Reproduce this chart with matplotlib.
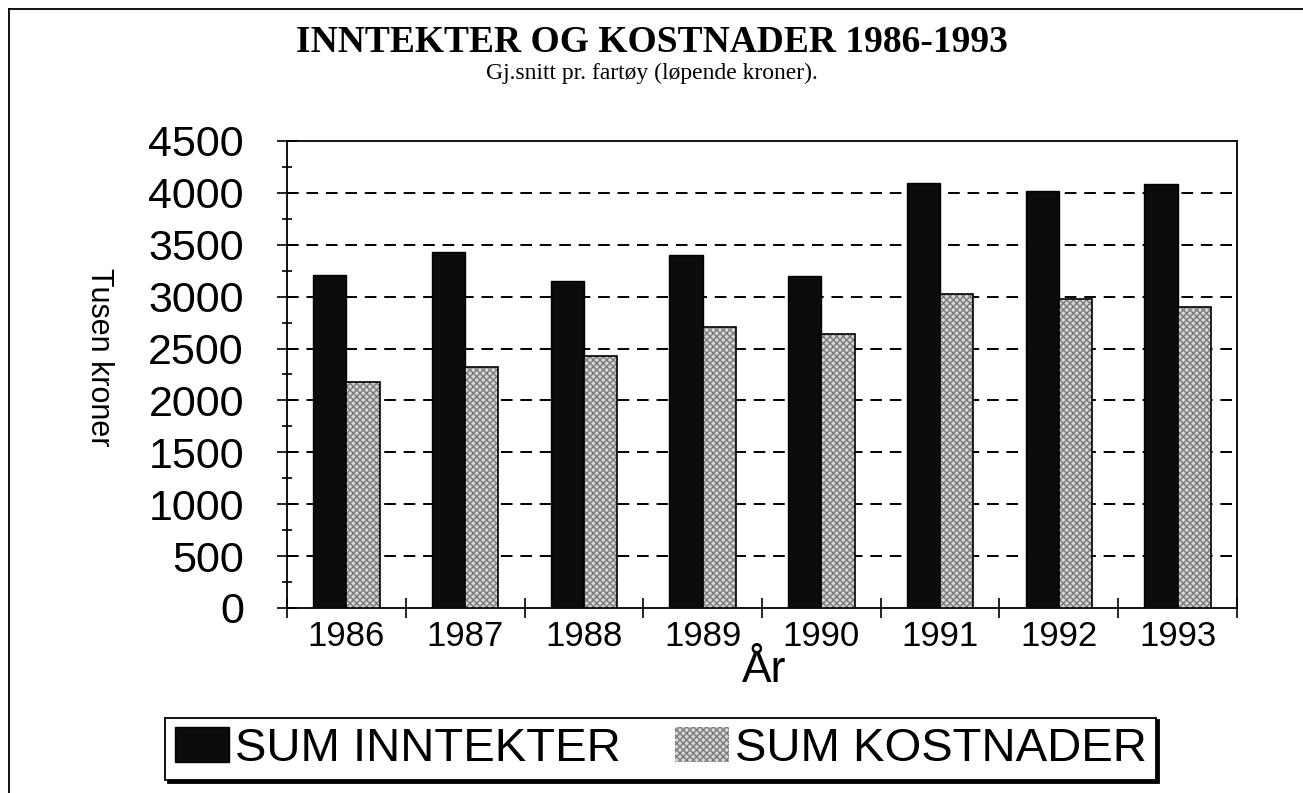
#!/usr/bin/env python

import numpy as np
import matplotlib
matplotlib.use('Agg')
import matplotlib.pyplot as plt
from matplotlib.lines import Line2D
from matplotlib.ticker import MultipleLocator, FixedLocator

# data (tusen kroner)
years = ['1986', '1987', '1988', '1989', '1990', '1991', '1992', '1993']
sum_inntekter = [3210, 3430, 3150, 3400, 3200, 4100, 4020, 4090]
sum_kostnader = [2180, 2320, 2430, 2710, 2640, 3030, 2980, 2900]

title = 'INNTEKTER OG KOSTNADER 1986-1993'
subtitle = 'Gj.snitt pr. fartøy (løpende kroner).'
ylabel = 'Tusen kroner'
xlabel = 'År'
series_names = ['SUM INNTEKTER', 'SUM KOSTNADER']

#---------------------------------------------------------------------------------------------------
# figure setup
#---------------------------------------------------------------------------------------------------
plt.rcParams['font.family'] = ['Liberation Sans', 'DejaVu Sans']
plt.rcParams['axes.linewidth'] = 1.3

fig = plt.figure(figsize=(13.03, 7.93), dpi=100)
ax = fig.add_axes([0.2203, 0.2333, 0.729, 0.5889])

x = np.arange(len(years))
width = 0.28

# income bars: solid black
b1 = ax.bar(x - width/2, sum_inntekter, width, color='#0c0c0c', edgecolor='black',
            linewidth=1.0, zorder=3)
# cost bars: fine grey checker pattern with a black outline
b2 = ax.bar(x + width/2, sum_kostnader, width, color='#d6d6d6', edgecolor='#7a7a7a',
            hatch='xxxxx', linewidth=0, zorder=3)
ax.bar(x + width/2, sum_kostnader, width, fill=False, edgecolor='black',
       linewidth=1.2, zorder=4)

# y axis
ax.set_ylim(0, 4500)
ax.yaxis.set_major_locator(MultipleLocator(500))
ax.yaxis.set_minor_locator(MultipleLocator(250))
ax.tick_params(axis='y', which='major', direction='inout', length=14, width=1.2,
               labelsize=31, pad=24)
ax.tick_params(axis='y', which='minor', direction='inout', length=7, width=1.2)

# x axis: labels at the centres, tick marks between the years
ax.set_xlim(-0.5, len(years) - 0.5)
ax.set_xticks(x)
ax.set_xticklabels(years)
ax.xaxis.set_minor_locator(FixedLocator(np.arange(-0.5, len(years), 1.0)))
ax.tick_params(axis='x', which='major', length=0, labelsize=25, pad=9)
ax.tick_params(axis='x', which='minor', direction='inout', length=14, width=1.2)

# dashed grid lines
for yv in range(500, 4500, 500):
    ax.axhline(yv, color='black', linestyle=(0, (6, 4)), linewidth=1.4, zorder=1)

# titles and labels
fig.text(0.5, 1 - 42/793., title, ha='center', va='center', fontsize=27,
         fontweight='bold', family='Liberation Serif')
fig.text(0.5, 1 - 73/793., subtitle, ha='center', va='center', fontsize=17,
         family='Liberation Serif')
fig.text(99/1303., 1 - 357/793., ylabel, rotation=-90, ha='center', va='center',
         fontsize=22)
fig.text(764/1303., 1 - 670/793., xlabel, ha='center', va='center', fontsize=32)

# legend with a hard shadow
leg = fig.legend([b1, b2], series_names, loc='center', ncol=2,
                 bbox_to_anchor=(660.5/1303., 1 - 749/793.), fontsize=34,
                 frameon=True, fancybox=False, edgecolor='black', framealpha=1,
                 shadow={'color': 'black', 'alpha': 1}, handlelength=1.15,
                 handleheight=0.75, handletextpad=0.12, columnspacing=1.15,
                 borderpad=0.2, borderaxespad=0)
leg.get_frame().set_linewidth(1.3)

# page frame: top and left line
fig.add_artist(Line2D([9/1303., 1.0], [1 - 9/793., 1 - 9/793.], color='black',
                      linewidth=1.3, transform=fig.transFigure))
fig.add_artist(Line2D([9/1303., 9/1303.], [0.0, 1 - 9/793.], color='black',
                      linewidth=1.3, transform=fig.transFigure))

fig.savefig('out.png', dpi=100)
